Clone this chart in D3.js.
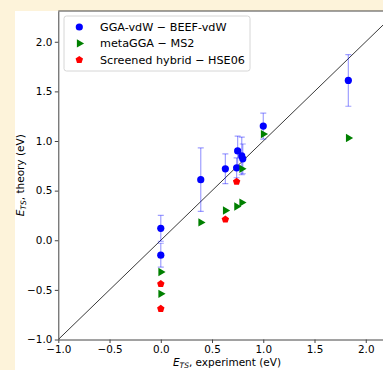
<!DOCTYPE html>
<html>
<head>
<meta charset="utf-8">
<script src="https://cdn.jsdelivr.net/npm/d3@7"></script>
<style>
  html, body { margin: 0; padding: 0; background: #fdf3da; }
  svg { display: block; }
  text { font-family: 'DejaVu Sans', sans-serif; fill: #000; }
</style>
</head>
<body>
<div id="chart"></div>
<script>
// experiment vs theory transition-state energies (eV)
const bx = [0, 0, 0.39, 0.63, 0.74, 0.75, 0.79, 0.80, 1.00, 1.83]
const by = [0.12, -0.15, 0.61, 0.72, 0.73, 0.90, 0.85, 0.82, 1.15, 1.61]
const bErr = [0.13, 0.12, 0.32, 0.15, 0.10, 0.15, 0.19, 0.15, 0.13, 0.26]

const gx = [0, 0, 0.39, 0.63, 0.74, 0.79, 0.79, 1.00, 1.83]
const gy = [-0.32, -0.54, 0.18, 0.30, 0.34, 0.38, 0.72, 1.07, 1.03]

const rx = [0, 0, 0.63, 0.74]
const ry = [-0.44, -0.69, 0.21, 0.59]

const ticks = [-1.0, -0.5, 0.0, 0.5, 1.0, 1.5, 2.0]
const legendLabels = ['GGA-vdW \u2212 BEEF-vdW', 'metaGGA \u2212 MS2', 'Screened hybrid \u2212 HSE06']
const legendColors = ['blue', 'green', 'red']

const W = 383, H = 370
const x = d3.scaleLinear().domain([-1, 2.3]).range([58.3, 396.5])
const y = d3.scaleLinear().domain([-1, 2.31]).range([339.5, 11])

const svg = d3.select('#chart').append('svg').attr('width', W).attr('height', H)

// white figure area, cream page shows at left/top
svg.append('rect').attr('x', 15).attr('y', 11).attr('width', W - 15).attr('height', H - 11).attr('fill', '#fff')

svg.append('defs').append('clipPath').attr('id', 'plot')
  .append('rect').attr('x', x(-1)).attr('y', y(2.31)).attr('width', x(2.3) - x(-1)).attr('height', y(-1) - y(2.31))

const plot = svg.append('g').attr('clip-path', 'url(#plot)')

// parity line y = x
plot.append('line')
  .attr('x1', x(-1)).attr('y1', y(-1))
  .attr('x2', x(2.31)).attr('y2', y(2.31))
  .attr('stroke', '#222').attr('stroke-width', 0.9)

const blue = bx.map((v, i) => ({ x: v, y: by[i], e: bErr[i] }))
const green = gx.map((v, i) => ({ x: v, y: gy[i] }))
const red = rx.map((v, i) => ({ x: v, y: ry[i] }))

// error bars
const eb = plot.append('g').attr('stroke', 'rgba(0,0,255,0.38)').attr('stroke-width', 1.2)
blue.forEach(d => {
  const cx = x(d.x)
  eb.append('line').attr('x1', cx).attr('x2', cx).attr('y1', y(d.y - d.e)).attr('y2', y(d.y + d.e))
  eb.append('line').attr('x1', cx - 3).attr('x2', cx + 3).attr('y1', y(d.y - d.e)).attr('y2', y(d.y - d.e))
  eb.append('line').attr('x1', cx - 3).attr('x2', cx + 3).attr('y1', y(d.y + d.e)).attr('y2', y(d.y + d.e))
})

const triPath = d3.symbol().type(d3.symbolTriangle).size(30)()
function pentagon(r) {
  const pts = d3.range(5).map(k => {
    const a = -Math.PI / 2 + k * 2 * Math.PI / 5
    return [r * Math.cos(a), r * Math.sin(a)]
  })
  return d3.line()(pts) + 'Z'
}
const pentPath = pentagon(3.9)

plot.append('g').selectAll('circle').data(blue).enter().append('circle')
  .attr('cx', d => x(d.x)).attr('cy', d => y(d.y)).attr('r', 3.6).attr('fill', 'blue')

plot.append('g').selectAll('path').data(green).enter().append('path')
  .attr('d', triPath).attr('fill', 'green')
  .attr('transform', d => `translate(${x(d.x)},${y(d.y)}) rotate(90)`)

plot.append('g').selectAll('path').data(red).enter().append('path')
  .attr('d', pentPath).attr('fill', 'red')
  .attr('transform', d => `translate(${x(d.x)},${y(d.y)})`)

// axes
const fmt = d3.format('.1f')
const xAxis = svg.append('g').attr('transform', `translate(0,${y(-1)})`)
  .call(d3.axisBottom(x).tickValues(ticks).tickFormat(fmt).tickSize(3.5).tickPadding(2.5).tickSizeOuter(0))
const yAxis = svg.append('g').attr('transform', `translate(${x(-1)},0)`)
  .call(d3.axisLeft(y).tickValues(ticks).tickFormat(fmt).tickSize(3.5).tickPadding(2.5).tickSizeOuter(0))
;[xAxis, yAxis].forEach(a => {
  a.select('.domain').attr('stroke', '#444').attr('stroke-width', 1)
  a.selectAll('.tick line').attr('stroke', '#444')
  a.selectAll('.tick text').attr('font-size', '10.4px').attr('fill', '#000').style('font-family', 'DejaVu Sans')
})
// top spine
svg.append('line').attr('x1', x(-1)).attr('x2', W).attr('y1', y(2.31)).attr('y2', y(2.31))
  .attr('stroke', '#444').attr('stroke-width', 1)

// axis labels
const xl = svg.append('text').attr('x', 227).attr('y', 366).attr('text-anchor', 'middle').attr('font-size', '10.5px')
xl.append('tspan').attr('font-style', 'italic').text('E')
xl.append('tspan').attr('font-style', 'italic').attr('font-size', '7.5px').attr('dy', 2).text('TS')
xl.append('tspan').attr('dy', -2).text(', experiment (eV)')

const yl = svg.append('text').attr('transform', `translate(24,${(y(-1) + y(2.31)) / 2}) rotate(-90)`)
  .attr('text-anchor', 'middle').attr('font-size', '10.5px')
yl.append('tspan').attr('font-style', 'italic').text('E')
yl.append('tspan').attr('font-style', 'italic').attr('font-size', '7.5px').attr('dy', 2).text('TS')
yl.append('tspan').attr('dy', -2).text(', theory (eV)')

// legend
const lg = svg.append('g')
lg.append('rect').attr('x', 64).attr('y', 16).attr('width', 186).attr('height', 55).attr('rx', 2.5)
  .attr('fill', 'rgba(255,255,255,0.85)').attr('stroke', '#d6d6d6').attr('stroke-width', 1)
legendLabels.forEach((t, i) => {
  const cy = 27 + i * 16.4
  const cx = 79.3
  if (i === 0) lg.append('circle').attr('cx', cx).attr('cy', cy).attr('r', 3.6).attr('fill', legendColors[i])
  else if (i === 1) lg.append('path').attr('d', triPath).attr('fill', legendColors[i]).attr('transform', `translate(${cx},${cy}) rotate(90)`)
  else lg.append('path').attr('d', pentPath).attr('fill', legendColors[i]).attr('transform', `translate(${cx},${cy})`)
  lg.append('text').attr('x', 100).attr('y', cy + 4).attr('font-size', '11.2px').text(t)
})
</script>
</body>
</html>
